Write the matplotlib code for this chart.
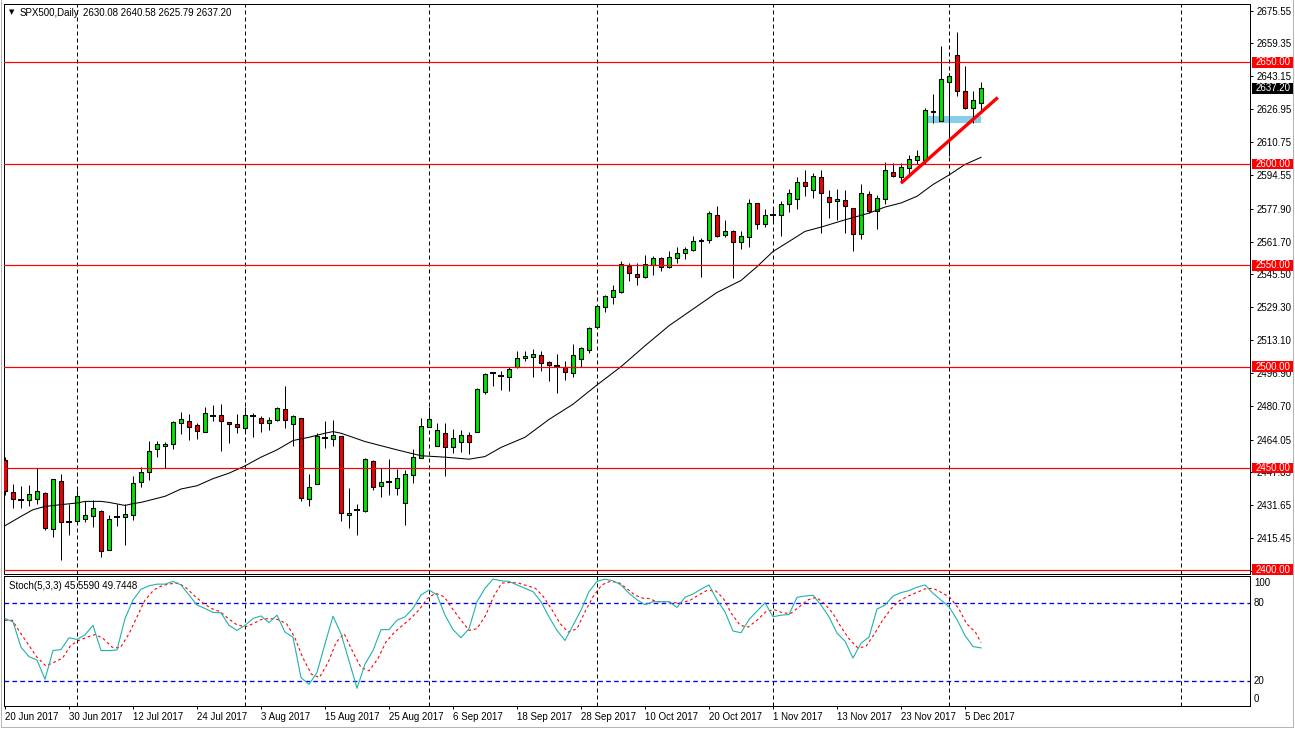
import matplotlib
matplotlib.use('Agg')
import matplotlib.pyplot as plt
import matplotlib.transforms as mtransforms
from matplotlib.patches import Rectangle
from matplotlib.lines import Line2D

plt.rcParams['font.family'] = ['Liberation Sans', 'DejaVu Sans']

# ---------------- data ----------------
symbol = "SPX500,Daily"
last_ohlc = "2630.08 2640.58 2625.79 2637.20"

opens = [2454.0, 2438.2, 2434.4, 2434.4, 2434.8, 2437.7, 2420.2, 2443.8, 2423.5, 2423.8,
         2424.9, 2426.6, 2428.9, 2409.8, 2425.7, 2425.7, 2426.7, 2443.4, 2448.0, 2459.3,
         2461.0, 2461.8, 2472.1, 2473.4, 2471.3, 2468.0, 2475.9, 2476.2, 2472.6, 2471.6,
         2469.7, 2475.9, 2474.6, 2472.1, 2473.8, 2479.0, 2471.6, 2474.6, 2434.8, 2442.1,
         2464.8, 2464.3, 2465.6, 2426.7, 2429.2, 2428.7, 2453.6, 2441.3, 2443.4, 2440.2,
         2432.8, 2446.4, 2454.9, 2470.5, 2461.0, 2467.2, 2460.2, 2462.8, 2466.4, 2468.0,
         2487.4, 2496.9, 2495.2, 2494.8, 2500.0, 2504.1, 2504.6, 2505.7, 2502.1, 2500.5,
         2500.0, 2496.9, 2503.8, 2508.2, 2519.8, 2529.2, 2534.6, 2536.6, 2549.7, 2545.9,
         2544.4, 2550.0, 2553.4, 2549.2, 2553.4, 2556.2, 2557.4, 2562.0, 2562.5, 2574.6,
         2564.7, 2566.7, 2561.4, 2563.9, 2580.7, 2570.5, 2575.0, 2574.6, 2580.4, 2582.7,
         2591.1, 2587.3, 2593.6, 2583.7, 2581.8, 2582.0, 2578.2, 2565.3, 2585.1, 2576.9,
         2582.7, 2596.1, 2593.4, 2598.0, 2602.1, 2602.1, 2625.7, 2621.0, 2640.3, 2653.8,
         2636.1, 2627.5, 2630.08]
highs = [2455.5, 2442.3, 2441.3, 2441.8, 2450.0, 2438.0, 2444.8, 2447.0, 2432.3, 2439.3,
         2433.6, 2434.4, 2429.2, 2427.0, 2432.3, 2432.3, 2445.9, 2450.5, 2463.4, 2463.4,
         2463.1, 2473.3, 2477.5, 2476.7, 2472.1, 2480.3, 2481.1, 2481.5, 2472.8, 2476.6,
         2480.3, 2477.0, 2475.7, 2475.1, 2480.0, 2490.5, 2476.2, 2474.8, 2447.0, 2467.2,
         2473.0, 2473.8, 2466.0, 2440.2, 2432.3, 2454.9, 2454.1, 2450.0, 2454.6, 2449.5,
         2449.2, 2459.3, 2474.6, 2480.3, 2472.1, 2472.1, 2469.2, 2468.9, 2467.7, 2489.3,
         2496.9, 2497.5, 2498.0, 2499.7, 2507.5, 2507.9, 2508.7, 2507.5, 2502.6, 2506.2,
         2503.0, 2511.1, 2509.5, 2519.5, 2530.2, 2535.1, 2540.3, 2552.1, 2551.3, 2551.3,
         2555.1, 2554.6, 2554.1, 2557.0, 2559.0, 2559.0, 2564.2, 2563.5, 2576.6, 2579.4,
         2572.4, 2567.5, 2567.0, 2582.7, 2580.9, 2577.7, 2578.0, 2581.5, 2587.6, 2593.4,
         2597.2, 2595.5, 2597.2, 2587.3, 2587.6, 2587.3, 2578.4, 2590.3, 2586.5, 2584.8,
         2600.8, 2600.5, 2600.5, 2604.3, 2606.6, 2627.5, 2634.6, 2657.9, 2645.0, 2665.2,
         2648.4, 2636.1, 2640.58]
lows = [2436.9, 2430.3, 2430.3, 2431.1, 2432.5, 2419.3, 2416.0, 2404.6, 2417.2, 2422.6,
        2423.3, 2420.8, 2406.2, 2409.5, 2421.3, 2412.3, 2424.3, 2440.7, 2443.9, 2455.7,
        2450.0, 2459.3, 2466.9, 2463.9, 2464.4, 2468.0, 2473.0, 2458.2, 2462.3, 2467.2,
        2467.2, 2465.2, 2467.7, 2468.9, 2473.4, 2469.7, 2460.7, 2433.6, 2431.1, 2442.0,
        2459.8, 2461.1, 2423.8, 2420.5, 2416.9, 2428.2, 2439.3, 2435.7, 2436.9, 2436.9,
        2421.8, 2442.6, 2454.8, 2470.2, 2460.7, 2445.9, 2457.4, 2457.7, 2457.0, 2467.8,
        2486.6, 2490.7, 2488.7, 2488.2, 2499.3, 2502.6, 2495.1, 2497.7, 2493.1, 2486.9,
        2493.6, 2494.8, 2500.0, 2506.6, 2519.6, 2527.2, 2531.1, 2536.1, 2542.3, 2540.3,
        2543.9, 2545.2, 2547.2, 2548.5, 2551.3, 2552.9, 2557.2, 2544.2, 2561.2, 2563.9,
        2563.9, 2543.6, 2557.9, 2559.2, 2567.8, 2568.8, 2572.0, 2564.5, 2576.1, 2577.9,
        2584.0, 2583.2, 2565.8, 2573.3, 2572.1, 2565.8, 2556.8, 2562.9, 2575.7, 2568.0,
        2580.2, 2593.4, 2590.6, 2595.2, 2600.0, 2600.0, 2620.2, 2621.0, 2603.8, 2633.6,
        2627.0, 2620.2, 2625.79]
closes = [2438.5, 2434.9, 2434.4, 2437.2, 2438.7, 2420.5, 2444.6, 2423.4, 2423.3, 2436.2,
          2427.0, 2430.5, 2409.0, 2424.9, 2425.7, 2427.4, 2442.6, 2448.0, 2458.5, 2461.8,
          2462.1, 2472.6, 2474.1, 2470.5, 2468.5, 2477.0, 2475.9, 2473.0, 2471.6, 2470.2,
          2476.2, 2475.9, 2472.1, 2473.8, 2479.5, 2473.8, 2475.7, 2435.2, 2440.7, 2465.6,
          2464.8, 2466.1, 2427.9, 2427.9, 2429.2, 2454.4, 2440.5, 2443.1, 2443.4, 2445.1,
          2447.0, 2455.4, 2470.8, 2474.1, 2468.9, 2460.2, 2464.8, 2466.4, 2462.8, 2488.9,
          2496.4, 2496.9, 2495.2, 2498.9, 2504.3, 2505.4, 2506.2, 2501.6, 2500.8, 2500.5,
          2497.2, 2505.7, 2509.2, 2519.3, 2530.0, 2534.9, 2537.7, 2550.5, 2546.1, 2544.4,
          2550.5, 2553.4, 2549.3, 2554.1, 2556.2, 2557.9, 2562.0, 2562.5, 2575.7, 2564.5,
          2567.0, 2561.4, 2564.2, 2580.7, 2570.5, 2574.6, 2575.0, 2580.4, 2585.6, 2591.1,
          2589.3, 2593.9, 2585.6, 2581.2, 2582.7, 2579.0, 2565.3, 2585.6, 2576.6, 2583.2,
          2596.9, 2593.9, 2598.4, 2602.5, 2603.8, 2626.7, 2626.1, 2641.8, 2643.4, 2636.1,
          2627.5, 2631.6, 2637.20]

date_labels = ["20 Jun 2017", "30 Jun 2017", "12 Jul 2017", "24 Jul 2017", "3 Aug 2017",
               "15 Aug 2017", "25 Aug 2017", "6 Sep 2017", "18 Sep 2017", "28 Sep 2017",
               "10 Oct 2017", "20 Oct 2017", "1 Nov 2017", "13 Nov 2017", "23 Nov 2017",
               "5 Dec 2017"]
date_bars = [0, 8, 16, 24, 32, 40, 48, 56, 64, 72, 80, 88, 96, 104, 112, 120]
month_grid_bars = [9, 30, 53, 74, 96, 118, 147]

ma_bars = [0, 2, 3.5, 5, 7, 9, 10, 12, 13, 15, 16, 17, 20, 22, 24, 26, 28, 30, 32, 34,
           36, 38, 40, 41, 42, 45, 49, 52, 55, 58, 60, 62, 65, 68, 71, 74, 77, 80, 83, 86,
           89, 92, 94, 96, 98, 100, 102, 105, 108, 110, 112, 114, 116, 118, 120, 122]
ma_vals = [2421.6, 2426.2, 2429.5, 2431.1, 2432.0, 2432.8, 2433.6, 2433.6, 2433.1, 2431.6,
           2432.5, 2433.1, 2436.1, 2439.7, 2441.3, 2444.8, 2447.5, 2451.1, 2455.4, 2459.0,
           2463.6, 2465.2, 2467.2, 2468.0, 2467.2, 2463.1, 2459.0, 2456.1, 2455.4, 2454.4,
           2455.7, 2460.2, 2465.2, 2474.0, 2481.5, 2491.0, 2500.0, 2510.3, 2520.2, 2528.4,
           2536.6, 2542.5, 2549.3, 2556.8, 2561.7, 2566.7, 2568.8, 2572.4, 2575.7, 2578.7,
           2580.7, 2584.0, 2589.8, 2594.5, 2599.7, 2603.2]

price_ticks = [2675.55, 2659.35, 2643.15, 2626.95, 2610.75, 2594.55, 2577.90, 2561.70,
               2545.50, 2529.30, 2513.10, 2496.90, 2480.70, 2464.05, 2447.85, 2431.65,
               2415.45, 2399.25]
level_lines = [2650, 2600, 2550, 2500, 2450, 2400]
last_price = 2637.20

trend_bars = [112.0, 124.1]
trend_prices = [2590.5, 2632.7]
zone_bars = [115.3, 122.0]
zone_prices = [2620.3, 2623.8]

stoch_k = [68.3, 65.7, 46.1, 38.8, 36.2, 21.3, 43.5, 44.3, 53.4, 52.1,
           55.7, 63.0, 43.5, 43.5, 44.0, 68.3, 82.6, 91.0, 93.6, 94.9,
           94.9, 97.0, 94.3, 86.5, 78.7, 76.1, 73.0, 72.7, 63.0, 59.1,
           63.0, 68.3, 70.3, 65.1, 70.9, 57.8, 53.9, 22.6, 17.4, 26.5,
           48.7, 70.1, 56.5, 35.6, 14.3, 33.0, 43.5, 59.7, 59.7, 67.0,
           69.6, 76.1, 86.5, 90.4, 86.5, 70.9, 59.7, 53.4, 60.4, 81.3,
           91.7, 98.8, 97.5, 97.0, 94.3, 91.7, 89.1, 81.3, 69.6, 59.1,
           51.3, 63.0, 74.8, 89.1, 97.0, 98.8, 97.5, 94.3, 87.8, 82.8,
           79.0, 81.3, 81.3, 81.3, 76.9, 84.7, 87.3, 91.0, 94.3, 82.6,
           73.5, 58.6, 57.3, 67.5, 74.0, 80.5, 69.6, 70.9, 71.4, 84.7,
           85.7, 86.3, 78.7, 69.6, 57.0, 50.8, 37.7, 49.2, 53.9, 75.6,
           78.7, 85.7, 88.3, 89.9, 92.5, 94.3, 87.8, 82.6, 77.4, 67.5,
           55.2, 46.6, 45.56]
stoch_d_bars = [0.0, 0.9, 2.0, 3.0, 4.0, 5.1, 6.1, 7.2, 8.2, 9.2,
                10.3, 11.3, 12.3, 13.4, 14.4, 15.5, 16.5, 17.5, 18.6, 19.6,
                20.6, 21.7, 22.7, 23.8, 24.8, 25.8, 26.9, 27.9, 28.9, 30.0,
                31.0, 32.1, 33.1, 34.1, 35.2, 36.2, 37.2, 38.3, 39.3, 40.4,
                41.4, 42.4, 43.5, 44.5, 45.5, 46.6, 47.6, 48.7, 49.7, 50.7,
                51.8, 52.8, 53.8, 54.9, 55.9, 57.0, 58.0, 59.0, 60.1, 61.1,
                62.1, 63.2, 64.2, 65.3, 66.3, 67.3, 68.4, 69.4, 70.4, 71.5,
                72.5, 73.5, 74.6, 75.6, 76.7, 77.7, 78.7, 79.8,
                80.4, 81.5, 82.5, 83.6, 84.6, 85.7, 86.7, 87.7, 88.8, 89.8,
                90.8, 91.9, 92.9, 94.0, 95.1, 96.1, 97.2, 98.2, 99.3, 100.3,
                101.4, 102.4, 103.5, 104.5, 105.5, 106.6, 107.6, 108.7, 109.7, 110.8,
                111.8, 112.9, 113.9, 115.0, 116.0, 117.1, 118.1, 119.2, 120.2, 121.3,
                122.0]
stoch_d = [67.0, 67.0, 56.5, 47.4, 38.3, 31.7, 34.3, 37.7, 47.4, 51.3,
           53.9, 56.0, 52.6, 46.1, 45.6, 56.5, 69.6, 82.6, 90.4, 93.6,
           95.1, 95.7, 91.7, 85.2, 80.0, 76.1, 73.5, 68.3, 63.8, 61.7,
           64.3, 67.7, 68.3, 67.5, 64.3, 53.9, 38.3, 25.2, 22.6, 34.3,
           50.0, 56.5, 42.2, 30.4, 27.8, 37.0, 50.0, 57.8, 63.0, 68.3,
           75.3, 83.9, 87.8, 85.2, 76.1, 67.0, 59.1, 60.4, 70.9, 85.7,
           95.7, 96.2, 95.7, 93.6, 91.7, 85.2, 74.8, 64.3, 57.8, 60.4,
           73.5, 85.2, 94.3, 97.0, 96.2, 91.7, 86.5, 83.9,
           83.9, 81.3, 81.3, 80.5, 80.5, 82.6, 86.5, 89.9, 89.9, 83.9,
           72.2, 63.0, 61.7, 67.0, 73.5, 75.3, 72.7, 72.2, 77.4, 82.6,
           84.7, 80.0, 72.2, 61.7, 52.6, 45.6, 46.6, 56.5, 67.0, 76.1,
           82.1, 85.7, 88.3, 91.2, 91.7, 88.3, 84.7, 76.1, 64.3, 57.8,
           49.74]
stoch_levels = [80, 20]
stoch_label = "Stoch(5,3,3) 45.5590 49.7448"
stoch_axis_labels = ["100", "80", "20", "0"]
stoch_axis_pos = [95.6, 80, 20, 5.8]

# ---------------- layout ----------------
W, H = 1295, 729
PX = 0.72  # one pixel in points at dpi 100
fig = plt.figure(figsize=(W / 100, H / 100), dpi=100)
fig.patch.set_facecolor('white')

def fx(px):
    return px / W

def fy(py):
    return 1 - py / H

ax = fig.add_axes([fx(4), fy(574), (1250 - 4) / W, (574 - 4) / H])
ax2 = fig.add_axes([fx(4), fy(706), (1250 - 4) / W, (706 - 576) / H])

GREEN = '#00E400'
RED = '#F00000'
FS = 7

for a in (ax, ax2):
    for s in a.spines.values():
        s.set_linewidth(PX)
        s.set_color('black')
    a.set_facecolor('white')

n = len(opens)
xs = list(range(n))

# month grid
for a in (ax, ax2):
    for gb in month_grid_bars:
        a.axvline(gb, color='black', lw=PX, dashes=(4, 3), zorder=1)

# zone
ax.add_patch(Rectangle((zone_bars[0], zone_prices[0]), zone_bars[1] - zone_bars[0],
                       zone_prices[1] - zone_prices[0], facecolor='#87CEEB',
                       edgecolor='none', zorder=2))

# candles
ax.vlines(xs, lows, highs, color='black', lw=PX, zorder=3)
bw = 0.56
for i in range(n):
    o, c = opens[i], closes[i]
    if abs(c - o) < 0.35:
        ax.hlines(o, i - bw / 2 - 0.06, i + bw / 2 + 0.06, color='black', lw=1.4, zorder=4)
    else:
        col = GREEN if c > o else RED
        ax.bar(i, abs(c - o), bottom=min(o, c), width=bw, color=col,
               edgecolor='black', linewidth=PX * 1.1, zorder=4)

# MA
ax.plot(ma_bars, ma_vals, color='black', lw=0.75, zorder=5)

# level lines
for lv in level_lines:
    ax.axhline(lv, color='#FF0000', lw=PX * 1.2, zorder=5)

# trend line
ax.plot(trend_bars, trend_prices, color='#FF0000', lw=2.4, solid_capstyle='butt', zorder=6)

ax.set_xlim(-0.125, 155.625)
ax.set_ylim(2397.8, 2678.8)
ax.set_xticks([])
ax.yaxis.tick_right()
ax.set_yticks(price_ticks)
ax.set_yticklabels([f"{v:.2f}" for v in price_ticks])
ax.tick_params(axis='y', length=3 * PX, width=PX, pad=2.5, labelsize=FS, colors='black')

# price boxes
btr = mtransforms.blended_transform_factory(fig.transFigure, ax.transData)
bh = 10.5 / 2.028
for lv in level_lines:
    ax.add_patch(Rectangle((fx(1252), lv - bh / 2), fx(1294) - fx(1252), bh,
                           transform=btr, facecolor='#FF0000', edgecolor='none',
                           clip_on=False, zorder=20))
    ax.text(fx(1256), lv, f"{lv:.2f}", transform=btr, color='white', fontsize=FS,
            va='center', ha='left', clip_on=False, zorder=21)
ax.add_patch(Rectangle((fx(1252), last_price - bh / 2), fx(1294) - fx(1252), bh,
                       transform=btr, facecolor='black', edgecolor='none',
                       clip_on=False, zorder=20))
ax.text(fx(1256), last_price, f"{last_price:.2f}", transform=btr, color='white',
        fontsize=FS, va='center', ha='left', clip_on=False, zorder=21)

ax.set_xlim(-0.125, 155.625)
ax.set_ylim(2397.8, 2678.8)

# ---------------- stochastic ----------------
for lv in stoch_levels:
    ax2.axhline(lv, color='#0000FF', lw=0.95, dashes=(3.5, 2.5), zorder=2)
ax2.plot(xs, stoch_k, color='#20B2AA', lw=0.8, zorder=4)
ax2.plot(stoch_d_bars, stoch_d, color='#FF0000', lw=0.8, dashes=(2.5, 2.5), zorder=3)
ax2.set_xlim(-0.125, 155.625)
ax2.set_ylim(0.6, 101.2)
ax2.set_yticks([])
ax2.set_xticks(date_bars)
ax2.set_xticklabels(date_labels, ha='left')
ax2.tick_params(axis='x', length=3 * PX, width=PX, pad=2.5, labelsize=FS, colors='black')
str_ = mtransforms.blended_transform_factory(fig.transFigure, ax2.transData)
for lab, pos in zip(stoch_axis_labels, stoch_axis_pos):
    ax2.text(fx(1254), pos, lab, transform=str_, fontsize=FS, va='center', ha='left',
             clip_on=False)

# ---------------- header texts ----------------
fig.text(fx(12), fy(12.5), "\u25BC", fontsize=5, family='DejaVu Sans',
         ha='center', va='center')
fig.text(fx(20), fy(12.7), symbol, fontsize=FS, ha='left', va='center')
fig.text(fx(83), fy(12.7), last_ohlc, fontsize=FS, ha='left', va='center')
fig.text(fx(9), fy(586), stoch_label, fontsize=FS, ha='left', va='center')

# window frame
for (x0, y0, x1, y1) in [(1, 0, 1, 727), (1, 727, 1293, 727), (1293, 0, 1293, 727)]:
    fig.add_artist(Line2D([fx(x0), fx(x1)], [fy(y0), fy(y1)], color='#B4B4B4',
                          lw=PX, transform=fig.transFigure))

fig.savefig('out.png', dpi=100, facecolor='white')
